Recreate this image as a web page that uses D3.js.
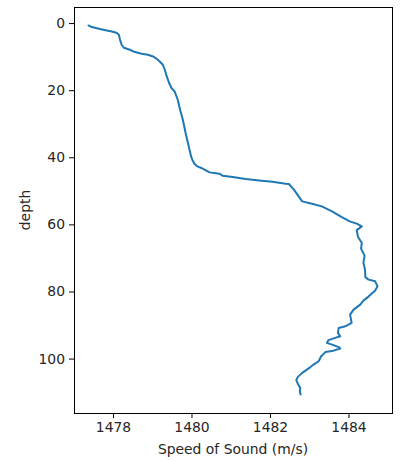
<!DOCTYPE html>
<html>
<head>
<meta charset="utf-8">
<script src="https://cdn.jsdelivr.net/npm/d3@7"></script>
<style>
  html, body { margin: 0; padding: 0; background: #fff; }
  svg { display: block; }
  text { font-family: "DejaVu Sans", sans-serif; fill: #262626; }
</style>
</head>
<body>
<svg id="chart" width="402" height="461"></svg>
<script>
// Speed of sound (m/s) along the profile
const speed = [
  1477.375, 1477.46, 1477.67, 1477.84, 1477.97, 1478.09, 1478.15, 1478.18, 1478.22, 1478.28,
  1478.43, 1478.56, 1478.73, 1478.89, 1479.02, 1479.12, 1479.19, 1479.27, 1479.32, 1479.37,
  1479.43, 1479.49, 1479.57, 1479.65, 1479.71, 1479.78, 1479.85, 1479.91, 1479.95, 1479.99,
  1480.02, 1480.08, 1480.15, 1480.25, 1480.46, 1480.71, 1480.79, 1481.05, 1481.38, 1481.72,
  1482.06, 1482.40, 1482.48, 1482.61, 1482.73, 1482.82, 1483.07, 1483.32, 1483.58, 1483.83,
  1484.03, 1484.21, 1484.34, 1484.21, 1484.24, 1484.34, 1484.32, 1484.41, 1484.38, 1484.42,
  1484.43, 1484.51, 1484.68, 1484.74, 1484.68, 1484.51, 1484.38, 1484.30, 1484.13, 1484.04,
  1484.08, 1483.92, 1483.75, 1483.73, 1483.79, 1483.66, 1483.49, 1483.45, 1483.58, 1483.75,
  1483.79, 1483.58, 1483.41, 1483.30, 1483.24, 1483.11, 1483.03, 1482.94, 1482.82, 1482.71,
  1482.67, 1482.72, 1482.77, 1482.76, 1482.78
];
// Depth for each sample
const depth = [
  0.71, 1.19, 1.79, 2.20, 2.50, 2.89, 3.49, 4.97, 6.46, 7.36,
  7.95, 8.64, 9.15, 9.44, 9.95, 10.72, 11.44, 12.42, 13.91, 15.91,
  17.87, 19.36, 20.38, 22.85, 25.83, 28.81, 32.77, 35.75, 37.75, 39.74,
  40.72, 42.00, 42.72, 43.19, 44.50, 44.89, 45.49, 45.87, 46.47, 46.89,
  47.27, 47.87, 47.96, 49.66, 51.65, 53.14, 53.83, 54.63, 56.12, 57.85,
  59.10, 59.79, 60.59, 61.72, 63.66, 65.53, 67.23, 69.32, 71.40, 73.49,
  75.72, 76.47, 76.97, 78.46, 79.74, 81.53, 82.72, 83.91, 85.40, 86.89,
  89.37, 90.38, 90.86, 92.34, 93.36, 93.83, 94.49, 95.32, 95.83, 96.57,
  97.02, 97.77, 98.06, 99.40, 100.80, 101.79, 102.53, 103.28, 104.26, 105.45,
  106.41, 107.75, 108.73, 109.74, 110.72
];
const xTicks = [1478, 1480, 1482, 1484];
const yTicks = [0, 20, 40, 60, 80, 100];
const xLabel = "Speed of Sound (m/s)";
const yLabel = "depth";

const svg = d3.select("#chart");
const m = { left: 74, right: 392, top: 7, bottom: 413 };
const fs = "13.9px";

function padded(ext) {
  const p = (ext[1] - ext[0]) * 0.05;
  return [ext[0] - p, ext[1] + p];
}
const x = d3.scaleLinear().domain(padded(d3.extent(speed))).range([m.left, m.right]);
const y = d3.scaleLinear().domain(padded(d3.extent(depth))).range([m.top, m.bottom]);

const pts = speed.map((s, i) => [s, depth[i]]);

svg.append("path")
  .datum(pts)
  .attr("fill", "none")
  .attr("stroke", "#1f77b4")
  .attr("stroke-width", 2)
  .attr("stroke-linejoin", "round")
  .attr("stroke-linecap", "round")
  .attr("d", d3.line().x(d => x(d[0])).y(d => y(d[1])).curve(d3.curveLinear));

// frame
svg.append("rect")
  .attr("x", m.left).attr("y", m.top)
  .attr("width", m.right - m.left).attr("height", m.bottom - m.top)
  .attr("fill", "none").attr("stroke", "#000").attr("stroke-width", 1)
  .attr("shape-rendering", "crispEdges");

const xAxis = svg.append("g")
  .attr("transform", `translate(0,${m.bottom})`)
  .call(d3.axisBottom(x).tickValues(xTicks).tickFormat(d3.format("d")).tickSize(5).tickPadding(4));
const yAxis = svg.append("g")
  .attr("transform", `translate(${m.left},0)`)
  .call(d3.axisLeft(y).tickValues(yTicks).tickFormat(d3.format("d")).tickSize(5).tickPadding(4));

[xAxis, yAxis].forEach(g => {
  g.select(".domain").remove();
  g.selectAll("line").attr("stroke", "#000");
  g.selectAll("text").attr("font-size", fs).attr("fill", "#262626")
    .style("font-family", "'DejaVu Sans', sans-serif");
});

svg.append("text")
  .attr("x", (m.left + m.right) / 2).attr("y", 454)
  .attr("text-anchor", "middle")
  .attr("font-size", fs)
  .text(xLabel);

svg.append("text")
  .attr("transform", `translate(30,${(m.top + m.bottom) / 2}) rotate(-90)`)
  .attr("text-anchor", "middle")
  .attr("font-size", fs)
  .text(yLabel);
</script>
</body>
</html>
